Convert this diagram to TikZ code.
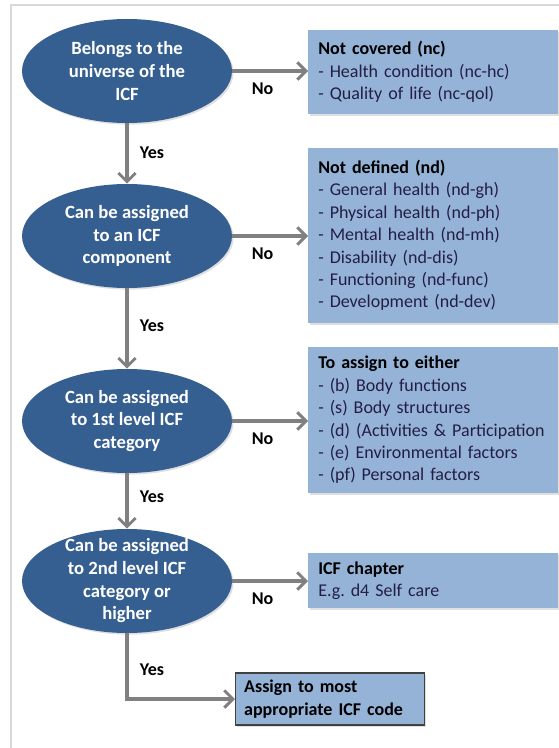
\documentclass[tikz,border=0pt]{standalone}
\usepackage{fontspec}
\setmainfont{Carlito}
\usetikzlibrary{shapes.geometric,arrows.meta,shadows}
\definecolor{darkblue}{RGB}{54,95,145}
\definecolor{lightblue}{RGB}{149,179,215}
\definecolor{arrowgray}{RGB}{128,128,128}
\definecolor{framegray}{RGB}{217,217,217}
\definecolor{itemtext}{RGB}{36,30,70}
\begin{document}
\frenchspacing
\begin{tikzpicture}[x=0.75pt,y=-0.75pt,
  boxfont/.style={font=\fontsize{13.5}{16.8}\selectfont},
  ell/.style={ellipse, fill=darkblue, draw=none, inner sep=0pt,
    minimum width=157.5pt, minimum height=78pt,
    drop shadow={shadow xshift=1.2pt, shadow yshift=-1.2pt, opacity=0.25}},
  etext/.style={text=white, align=center, font=\fontsize{14}{17}\selectfont\bfseries},
  infobox/.style={rectangle, fill=lightblue, draw=none, inner xsep=7.5pt, inner ysep=0pt,
    align=left, boxfont, text=itemtext, anchor=west,
    drop shadow={shadow xshift=1.2pt, shadow yshift=-1.2pt, opacity=0.25}},
  arr/.style={draw=arrowgray, line width=2.6pt,
    -{Straight Barb[length=6.5pt, width=13pt, line width=2.2pt]}},
  lbl/.style={font=\fontsize{13.5}{16}\selectfont\bfseries, text=black}]

\useasboundingbox (0,0) rectangle (558,748);

% outer frame (top and left edges)
\draw[framegray, line width=1.5pt] (11,760) -- (11,5) -- (570,5);

% decision ellipses
\node[ell, label={[etext]center:Belongs to the\\universe of the\\ICF}] (e1) at (127,71) {};
\node[ell, label={[etext]center:Can be assigned\\to an ICF\\component}] (e2) at (127,236) {};
\node[ell, label={[etext]center:Can be assigned\\to 1st level ICF\\category}] (e3) at (127,421) {};
\node[ell, label={[etext]center:Can be assigned\\to 2nd level ICF\\category or\\higher}] (e4) at (127,581) {};

% outcome boxes
\node[infobox, minimum width=187.5pt, minimum height=63pt, text width=172.5pt] (b1) at (308,72)
  {\textbf{\color{black}Not covered (nc)}\\- Health condition (nc-hc)\\- Quality of life (nc-qol)};
\node[infobox, minimum width=187.5pt, minimum height=131.25pt, text width=172.5pt] (b2) at (308,235.5)
  {\textbf{\color{black}Not defined (nd)}\\- General health (nd-gh)\\- Physical health (nd-ph)\\- Mental health (nd-mh)\\- Disability (nd-dis)\\- Functioning (nd-func)\\- Development (nd-dev)};
\node[infobox, minimum width=187.5pt, minimum height=109.5pt, text width=172.5pt] (b3) at (308,420)
  {\textbf{\color{black}To assign to either}\\- (b) Body functions\\- (s) Body structures\\- (d) (Activities \& Participation\\- (e) Environmental factors\\- (pf) Personal factors};
\node[infobox, minimum width=187.5pt, minimum height=41.25pt, text width=172.5pt] (b4) at (308,580.5)
  {\textbf{\color{black}ICF chapter}\\E.g. d4 Self care};
\node[infobox, draw=black!75, line width=1pt, inner xsep=6pt, minimum width=141.75pt,
  minimum height=39pt, text width=129pt, text=black] (b5) at (235,699)
  {\textbf{Assign to most}\\\textbf{appropriate ICF code}};

% "No" branches
\draw[arr] (e1.east) -- node[lbl, pos=0.4, below=4pt] {No} (b1.west |- e1.east);
\draw[arr] (e2.east) -- node[lbl, pos=0.4, below=4pt] {No} (b2.west |- e2.east);
\draw[arr] (e3.east) -- node[lbl, pos=0.4, below=4pt] {No} (b3.west |- e3.east);
\draw[arr] (e4.east) -- node[lbl, pos=0.4, below=4pt] {No} (b4.west |- e4.east);

% "Yes" branches
\draw[arr] (e1.south) -- node[lbl, pos=0.48, right=5pt] {Yes} (e2.north);
\draw[arr] (e2.south) -- node[lbl, pos=0.47, right=5pt] {Yes} (e3.north);
\draw[arr] (e3.south) -- node[lbl, pos=0.42, right=5pt] {Yes} (e4.north);
\draw[arr] (e4.south) -- node[lbl, pos=0.55, right=5pt] {Yes} (e4.south |- b5.west) -- (b5.west);
\end{tikzpicture}
\end{document}
